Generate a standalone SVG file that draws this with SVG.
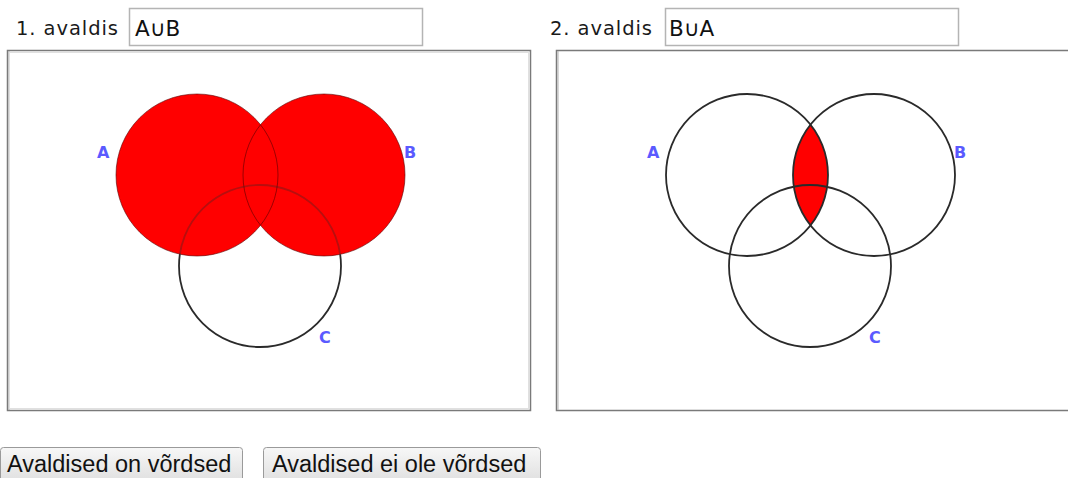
<svg xmlns="http://www.w3.org/2000/svg" width="1068" height="478" viewBox="0 0 1068 478">
<style>
.lbl{font-family:"DejaVu Sans",Verdana,sans-serif;font-size:19.5px;fill:#1a1a1a}
.inp{fill:#fff;stroke:#b4b4b4;stroke-width:1.5}
.inptxt{font-family:"DejaVu Sans",Verdana,sans-serif;font-size:21.5px;fill:#111}
.panel{fill:#fff;stroke:#7a7a7a;stroke-width:1.5}
.panelin{fill:none;stroke:#e0e0e0;stroke-width:1}
.ring{fill:none;stroke:#2a2a2a;stroke-width:1.8}
.faint{fill:none;stroke:#5a0000;stroke-width:1;stroke-opacity:0.6}
.set{font-family:"DejaVu Sans",Verdana,sans-serif;font-size:16px;font-weight:bold;fill:#5a5aff}
.btn{fill:url(#bg);stroke:#9a9a9a;stroke-width:1}
.btntxt{font-family:"Liberation Sans",Arial,sans-serif;font-size:23.5px;fill:#111}
.red{fill:#ff0000}
</style>
<defs>
<linearGradient id="bg" x1="0" y1="0" x2="0" y2="1">
<stop offset="0" stop-color="#f7f7f7"/>
<stop offset="1" stop-color="#dcdcdc"/>
</linearGradient>
<mask id="cmask" maskUnits="userSpaceOnUse" x="0" y="0" width="1068" height="478">
<rect x="0" y="0" width="1068" height="478" fill="#fff"/>
<circle cx="197" cy="175" r="81" fill="#555"/>
<circle cx="324" cy="175" r="81" fill="#555"/>
</mask>
</defs>
<rect width="1068" height="478" fill="#fff"/>

<g id="header1">
<text class="lbl" x="16" y="35" textLength="102" lengthAdjust="spacing">1. avaldis</text>
<rect class="inp" x="129.5" y="8.5" width="293" height="37"/>
<text class="inptxt" x="135" y="36">A∪B</text>
</g>

<g id="header2">
<text class="lbl" x="550" y="35" textLength="102" lengthAdjust="spacing">2. avaldis</text>
<rect class="inp" x="665.5" y="8.5" width="293" height="37"/>
<text class="inptxt" x="669" y="36">B∪A</text>
</g>

<g id="panel1">
<rect class="panel" x="7.5" y="50.5" width="523" height="360"/>
<line x1="9" y1="51" x2="9" y2="410" stroke="#b0b0b0" stroke-width="1"/>
<rect class="panelin" x="9.5" y="52.5" width="519" height="356"/>
<g id="venn1">
<circle class="red" cx="197" cy="175" r="81"/>
<circle class="red" cx="324" cy="175" r="81"/>
<circle class="faint" cx="197" cy="175" r="81"/>
<circle class="faint" cx="324" cy="175" r="81"/>
<circle class="ring" cx="260" cy="266" r="81" mask="url(#cmask)"/>
</g>
<text class="set" x="97" y="158">A</text>
<text class="set" x="404" y="158">B</text>
<text class="set" x="319" y="343">C</text>
</g>

<g id="panel2">
<rect class="panel" x="556.5" y="50.5" width="520" height="360"/>
<line x1="558" y1="51" x2="558" y2="410" stroke="#b0b0b0" stroke-width="1"/>
<g id="venn2">
<path class="red" d="M810.5 124.7 A81 81 0 0 1 810.5 225.3 A81 81 0 0 1 810.5 124.7 Z"/>
<circle class="ring" cx="747" cy="175" r="81"/>
<circle class="ring" cx="874" cy="175" r="81"/>
<circle class="ring" cx="810" cy="266" r="81"/>
</g>
<text class="set" x="647" y="158">A</text>
<text class="set" x="954" y="158">B</text>
<text class="set" x="869" y="343">C</text>
</g>

<g id="button1">
<rect class="btn" x="0.5" y="447.5" width="242" height="40" rx="3"/>
<text class="btntxt" x="7" y="472">Avaldised on võrdsed</text>
</g>

<g id="button2">
<rect class="btn" x="263.5" y="447.5" width="277" height="40" rx="3"/>
<text class="btntxt" x="272" y="472">Avaldised ei ole võrdsed</text>
</g>

<g id="connectors"/>
</svg>
